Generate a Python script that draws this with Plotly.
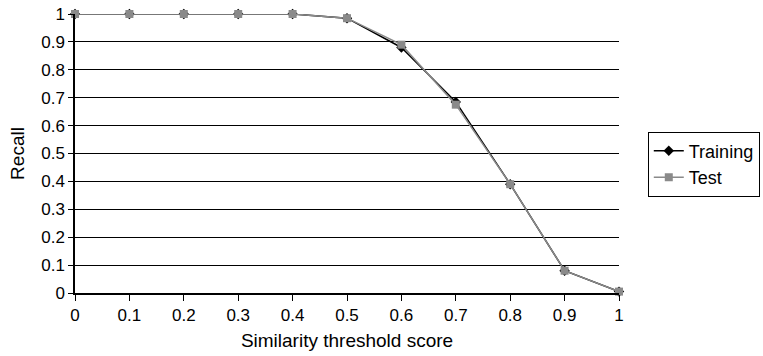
import plotly.graph_objects as go

thresholds = [0, 0.1, 0.2, 0.3, 0.4, 0.5, 0.6, 0.7, 0.8, 0.9, 1.0]
training = [1, 1, 1, 1, 1, 0.985, 0.88, 0.685, 0.39, 0.08, 0.005]
test = [1, 1, 1, 1, 1, 0.985, 0.89, 0.675, 0.39, 0.08, 0.005]
x_ticks = [0, 0.1, 0.2, 0.3, 0.4, 0.5, 0.6, 0.7, 0.8, 0.9, 1]
x_tick_labels = ["0", "0.1", "0.2", "0.3", "0.4", "0.5", "0.6", "0.7", "0.8", "0.9", "1"]
y_ticks = [0, 0.1, 0.2, 0.3, 0.4, 0.5, 0.6, 0.7, 0.8, 0.9, 1]
y_tick_labels = ["0", "0.1", "0.2", "0.3", "0.4", "0.5", "0.6", "0.7", "0.8", "0.9", "1"]

FONT = "Liberation Sans, Arial, sans-serif"

fig = go.Figure()
fig.add_trace(go.Scatter(
    x=thresholds, y=training, name="Training", mode="lines+markers",
    line=dict(color="#000000", width=1.5),
    marker=dict(symbol="diamond", size=8, color="#000000"),
    cliponaxis=False,
))
fig.add_trace(go.Scatter(
    x=thresholds, y=test, name="Test", mode="lines+markers",
    line=dict(color="#8a8a8a", width=1.5),
    marker=dict(symbol="square", size=8, color="#8a8a8a"),
    cliponaxis=False,
))

tick_font = dict(family=FONT, size=17, color="#000000")

fig.update_layout(
    width=763, height=356,
    margin=dict(l=75, r=144, t=14, b=63, autoexpand=False),
    paper_bgcolor="white", plot_bgcolor="white",
    font=tick_font,
    showlegend=True,
    legend=dict(
        xref="container", yref="container",
        x=0.849, xanchor="left", y=0.539, yanchor="middle",
        bordercolor="#000000", borderwidth=1,
        font=dict(family=FONT, size=18, color="#000000"),
        tracegroupgap=0, itemwidth=30,
    ),
    xaxis=dict(
        range=[0, 1], tickvals=x_ticks, ticktext=x_tick_labels,
        showgrid=False, zeroline=False,
        showline=True, linecolor="#000000", linewidth=1.5,
        ticks="outside", ticklen=6, tickcolor="#000000", tickwidth=1,
        title=dict(text="Similarity threshold score", standoff=10,
                   font=dict(family=FONT, size=19)),
        tickfont=tick_font, automargin=False,
    ),
    yaxis=dict(
        range=[0, 1], tickvals=y_ticks, ticktext=y_tick_labels,
        showgrid=True, gridcolor="#000000", gridwidth=1,
        zeroline=False,
        showline=True, linecolor="#000000", linewidth=1.5,
        ticks="outside", ticklen=5, tickcolor="#000000", tickwidth=1,
        title=dict(text="Recall", standoff=12,
                   font=dict(family=FONT, size=19)),
        tickfont=tick_font, automargin=False,
    ),
)

fig.write_html("out.html")
